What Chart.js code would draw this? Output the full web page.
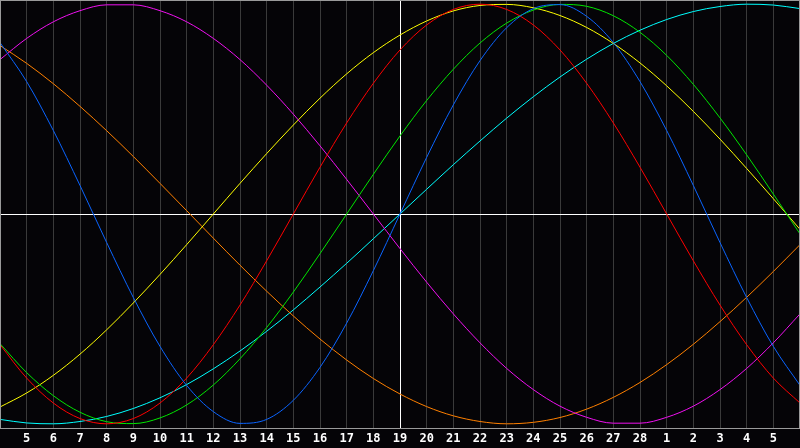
<!DOCTYPE html>
<html>
<head>
<meta charset="utf-8">
<script src="https://cdn.jsdelivr.net/npm/chart.js@4"></script>
<style>
  html, body { margin: 0; padding: 0; background: #050407; }
  #wrap { width: 800px; height: 448px; }
</style>
</head>
<body>
<div id="wrap"><canvas id="bio"></canvas></div>
<script>
const days = ["4", "5", "6", "7", "8", "9", "10", "11", "12", "13", "14", "15", "16", "17", "18", "19",
  "20", "21", "22", "23", "24", "25", "26", "27", "28", "1", "2", "3", "4", "5", "6"];

// values, one per day
const physical = [0.817, 0.631, 0.398, 0.136, -0.136, -0.398, -0.631, -0.817, -0.942, -0.998, -0.979,
  -0.888, -0.731, -0.520, -0.270, 0, 0.270, 0.520, 0.731, 0.888, 0.979, 0.998, 0.942, 0.817, 0.631,
  0.398, 0.136, -0.136, -0.398, -0.631, -0.817];
const emotional = [-0.623, -0.782, -0.901, -0.975, -1, -0.975, -0.901, -0.782, -0.623, -0.434, -0.223,
  0, 0.223, 0.434, 0.623, 0.782, 0.901, 0.975, 1, 0.975, 0.901, 0.782, 0.623, 0.434, 0.223,
  0, -0.223, -0.434, -0.623, -0.782, -0.901];
const intellectual = [-0.618, -0.756, -0.866, -0.945, -0.990, -0.999, -0.972, -0.910, -0.815, -0.690,
  -0.541, -0.372, -0.189, 0, 0.189, 0.372, 0.541, 0.690, 0.815, 0.910, 0.972, 0.999, 0.990, 0.945,
  0.866, 0.756, 0.618, 0.458, 0.282, 0.095, -0.095];
const intuitive = [0.736, 0.837, 0.916, 0.969, 0.997, 0.997, 0.969, 0.916, 0.837, 0.736, 0.614, 0.476,
  0.325, 0.165, 0, -0.165, -0.325, -0.476, -0.614, -0.736, -0.837, -0.916, -0.969, -0.997, -0.997,
  -0.969, -0.916, -0.837, -0.736, -0.614, -0.476];
const aesthetic = [-0.920, -0.853, -0.769, -0.668, -0.552, -0.424, -0.288, -0.146, 0, 0.146, 0.288,
  0.424, 0.552, 0.668, 0.769, 0.853, 0.920, 0.968, 0.994, 0.999, 0.983, 0.946, 0.889, 0.813, 0.720,
  0.611, 0.489, 0.357, 0.217, 0.073, -0.073];
const awareness = [0.803, 0.718, 0.621, 0.513, 0.397, 0.274, 0.146, 0.016, -0.115, -0.244, -0.368,
  -0.486, -0.596, -0.696, -0.784, -0.858, -0.918, -0.962, -0.989, -1, -0.993, -0.970, -0.930, -0.874,
  -0.803, -0.718, -0.621, -0.513, -0.397, -0.274, -0.146];
const spiritual = [-0.979, -0.996, -1, -0.989, -0.965, -0.927, -0.876, -0.813, -0.738, -0.653, -0.559,
  -0.457, -0.348, -0.235, -0.118, 0, 0.118, 0.235, 0.348, 0.457, 0.559, 0.653, 0.738, 0.813, 0.876,
  0.927, 0.965, 0.989, 1, 0.996, 0.979];

const TODAY = 15;

const series = [
  ["physical", physical, "#0a64ff"],
  ["emotional", emotional, "#ff0000"],
  ["intellectual", intellectual, "#00e600"],
  ["intuitive", intuitive, "#f010f0"],
  ["aesthetic", aesthetic, "#ffff00"],
  ["awareness", awareness, "#ff8000"],
  ["spiritual", spiritual, "#00ffff"],
];

const frame = {
  id: "frame",
  beforeDraw(chart) {
    const { ctx, width, height } = chart;
    ctx.save();
    ctx.fillStyle = "#050407";
    ctx.fillRect(0, 0, width, height);
    ctx.restore();
  },
  afterDraw(chart) {
    const { ctx, chartArea: a } = chart;
    ctx.save();
    ctx.strokeStyle = "#9a9a9a";
    ctx.lineWidth = 1;
    ctx.strokeRect(a.left + 0.5, a.top + 0.5, a.right - a.left - 1, a.bottom - a.top);
    ctx.restore();
  },
};

new Chart(document.getElementById("bio"), {
  type: "line",
  data: {
    labels: days,
    datasets: series.map(([label, data, color]) => ({
      label,
      data,
      borderColor: color,
      borderWidth: 1,
      pointRadius: 0,
      cubicInterpolationMode: "monotone",
      fill: false,
    })),
  },
  options: {
    responsive: true,
    maintainAspectRatio: false,
    animation: false,
    layout: { padding: 0 },
    plugins: { legend: { display: false }, tooltip: { enabled: false } },
    scales: {
      x: {
        offset: false,
        border: { display: false },
        grid: {
          drawTicks: false,
          color: (c) => (c.index === TODAY ? "#ffffff" : "#3a3a3a"),
        },
        ticks: {
          autoSkip: false,
          maxRotation: 0,
          padding: 4,
          color: "#ffffff",
          font: { family: "'DejaVu Sans Mono'", size: 12, weight: "bold" },
          callback: (v, i) => (i === 0 || i === days.length - 1 ? "" : days[i]),
        },
        afterFit(s) {
          s.height = 20;
          s.paddingLeft = 0;
          s.paddingRight = 0;
        },
      },
      y: {
        display: true,
        min: -1.02,
        max: 1.02,
        border: { display: false },
        grid: {
          drawTicks: false,
          color: (c) => (c.tick && c.tick.value === 0 ? "#ffffff" : "rgba(0,0,0,0)"),
        },
        ticks: { display: false, stepSize: 1.02 },
        afterFit(s) {
          s.width = 0;
          s.paddingTop = 0;
          s.paddingBottom = 0;
        },
      },
    },
  },
  plugins: [frame],
});
</script>
</body>
</html>
